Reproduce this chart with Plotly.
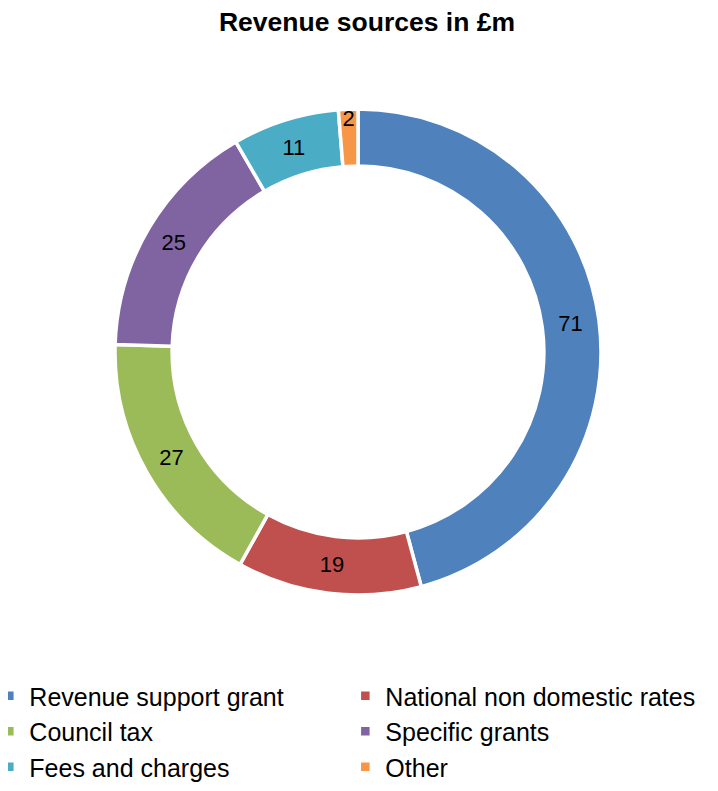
import plotly.graph_objects as go

labels = ["Revenue support grant", "National non domestic rates", "Council tax",
          "Specific grants", "Fees and charges", "Other"]
values = [71, 19, 27, 25, 11, 2]
colors = ["#4F81BD", "#C0504D", "#9BBB59", "#8064A2", "#4BACC6", "#F79646"]

W, H = 718, 791
B = 126                      # bottom margin reserved for the legend
PH = H - B                   # plot-area height
cx, cy, r = 350, 344, 243    # ring centre / radius in figure pixels

fig = go.Figure(go.Pie(
    labels=labels,
    values=values,
    hole=0.765,
    sort=False,
    direction="clockwise",
    rotation=0,
    marker=dict(colors=colors, line=dict(color="white", width=3.5)),
    textinfo="value",
    textposition="inside",
    insidetextorientation="horizontal",
    textfont=dict(family="Liberation Sans, Arial", size=22, color="black"),
    domain=dict(x=[(cx - r) / W, (cx + r) / W], y=[(PH - cy - r) / PH, (PH - cy + r) / PH]),
))

fig.update_layout(
    width=W, height=H,
    margin=dict(l=0, r=0, t=0, b=B, autoexpand=False),
    paper_bgcolor="white",
    plot_bgcolor="white",
    font=dict(family="Liberation Sans, Arial", color="black"),
    uniformtext=dict(minsize=22, mode="show"),
    title=dict(text="<b>Revenue sources in £m</b>", x=0.5, xanchor="center",
               y=1 - 14 / H, yanchor="middle", font=dict(size=26.5)),
    legend=dict(orientation="h", x=-0.026, xanchor="left", y=0, yanchor="top",
                entrywidth=311, entrywidthmode="pixels",
                font=dict(size=25), itemwidth=30),
)

fig.write_html("out.html")
